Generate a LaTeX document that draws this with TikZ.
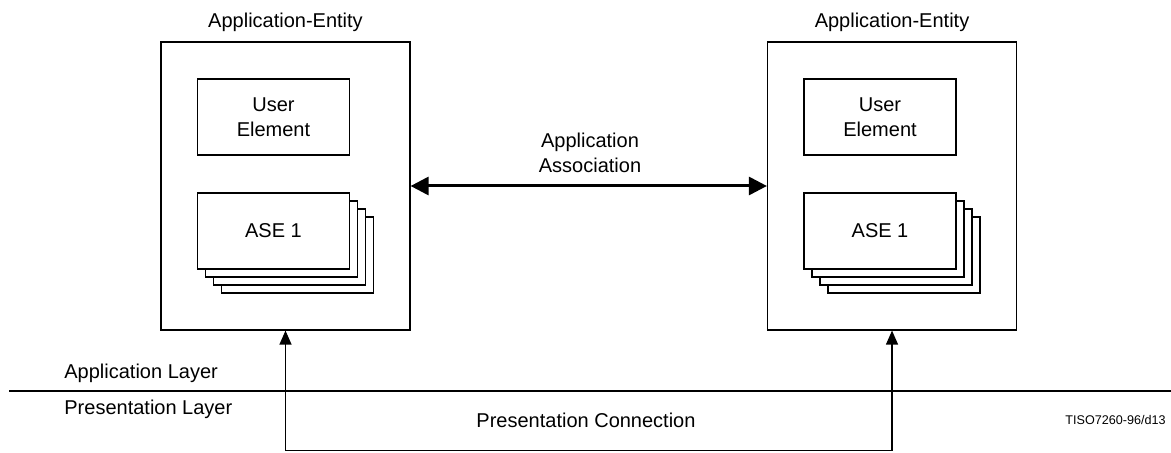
\documentclass[tikz,border=0pt]{standalone}
\usepackage{fontspec}
\setmainfont{Liberation Sans}
\usetikzlibrary{arrows.meta}

\begin{document}
\begin{tikzpicture}[x=0.5pt,y=-0.5pt,font=\fontsize{10}{12.5}\selectfont,
  entity/.style={draw,line width=0.6pt,minimum width=124.5pt,minimum height=144pt},
  elem/.style={draw,fill=white,line width=0.6pt,minimum width=76pt,minimum height=38pt,align=center},
  txt/.style={inner sep=0pt},
  assoc/.style={{Triangle[length=9pt,width=9pt]}-{Triangle[length=9pt,width=9pt]},line width=1.5pt},
  conn/.style={{Triangle[length=7pt,width=6pt]}-{Triangle[length=7pt,width=6pt]},line width=0.6pt}]
\useasboundingbox (0,0) rectangle (1171,453);
\foreach \i/\x in {1/285.5,2/892}
{ \node[entity] (ae\i) at (\x,186) {};
  \node[txt,anchor=base] (name\i) at (\x,28) {Application-Entity};
  \node[elem] (user\i) at (\x-12,117) {User\\Element};
  \foreach \k in {3,2,1}
    \node[elem] (copy\i\k) at (\x-12+8*\k,231+8*\k) {};
  \node[elem] (ase\i) at (\x-12,231) {ASE 1};
}
\draw[assoc] (ae1) -- (ae2);
\node[txt,align=center] (assoclabel) at (590,153) {Application\\Association};
% layer boundary
\coordinate (ruleL) at (9,391);
\coordinate (ruleR) at (1171,391);
\draw[line width=1pt] (ruleL) -- (ruleR);
\node[txt,anchor=base west] (applayer) at (64,379) {Application Layer};
\node[txt,anchor=base west] (preslayer) at (64,415) {Presentation Layer};
\draw[conn] (ae1.south) -- ++(0,120) -| (ae2.south);
\node[txt,anchor=base] (presconn) at (586,428) {Presentation Connection};
\node[txt,anchor=base east,font=\fontsize{6.3}{7.5}\selectfont] (figid) at (1166,425) {TISO7260-96/d13};
\end{tikzpicture}
\end{document}
